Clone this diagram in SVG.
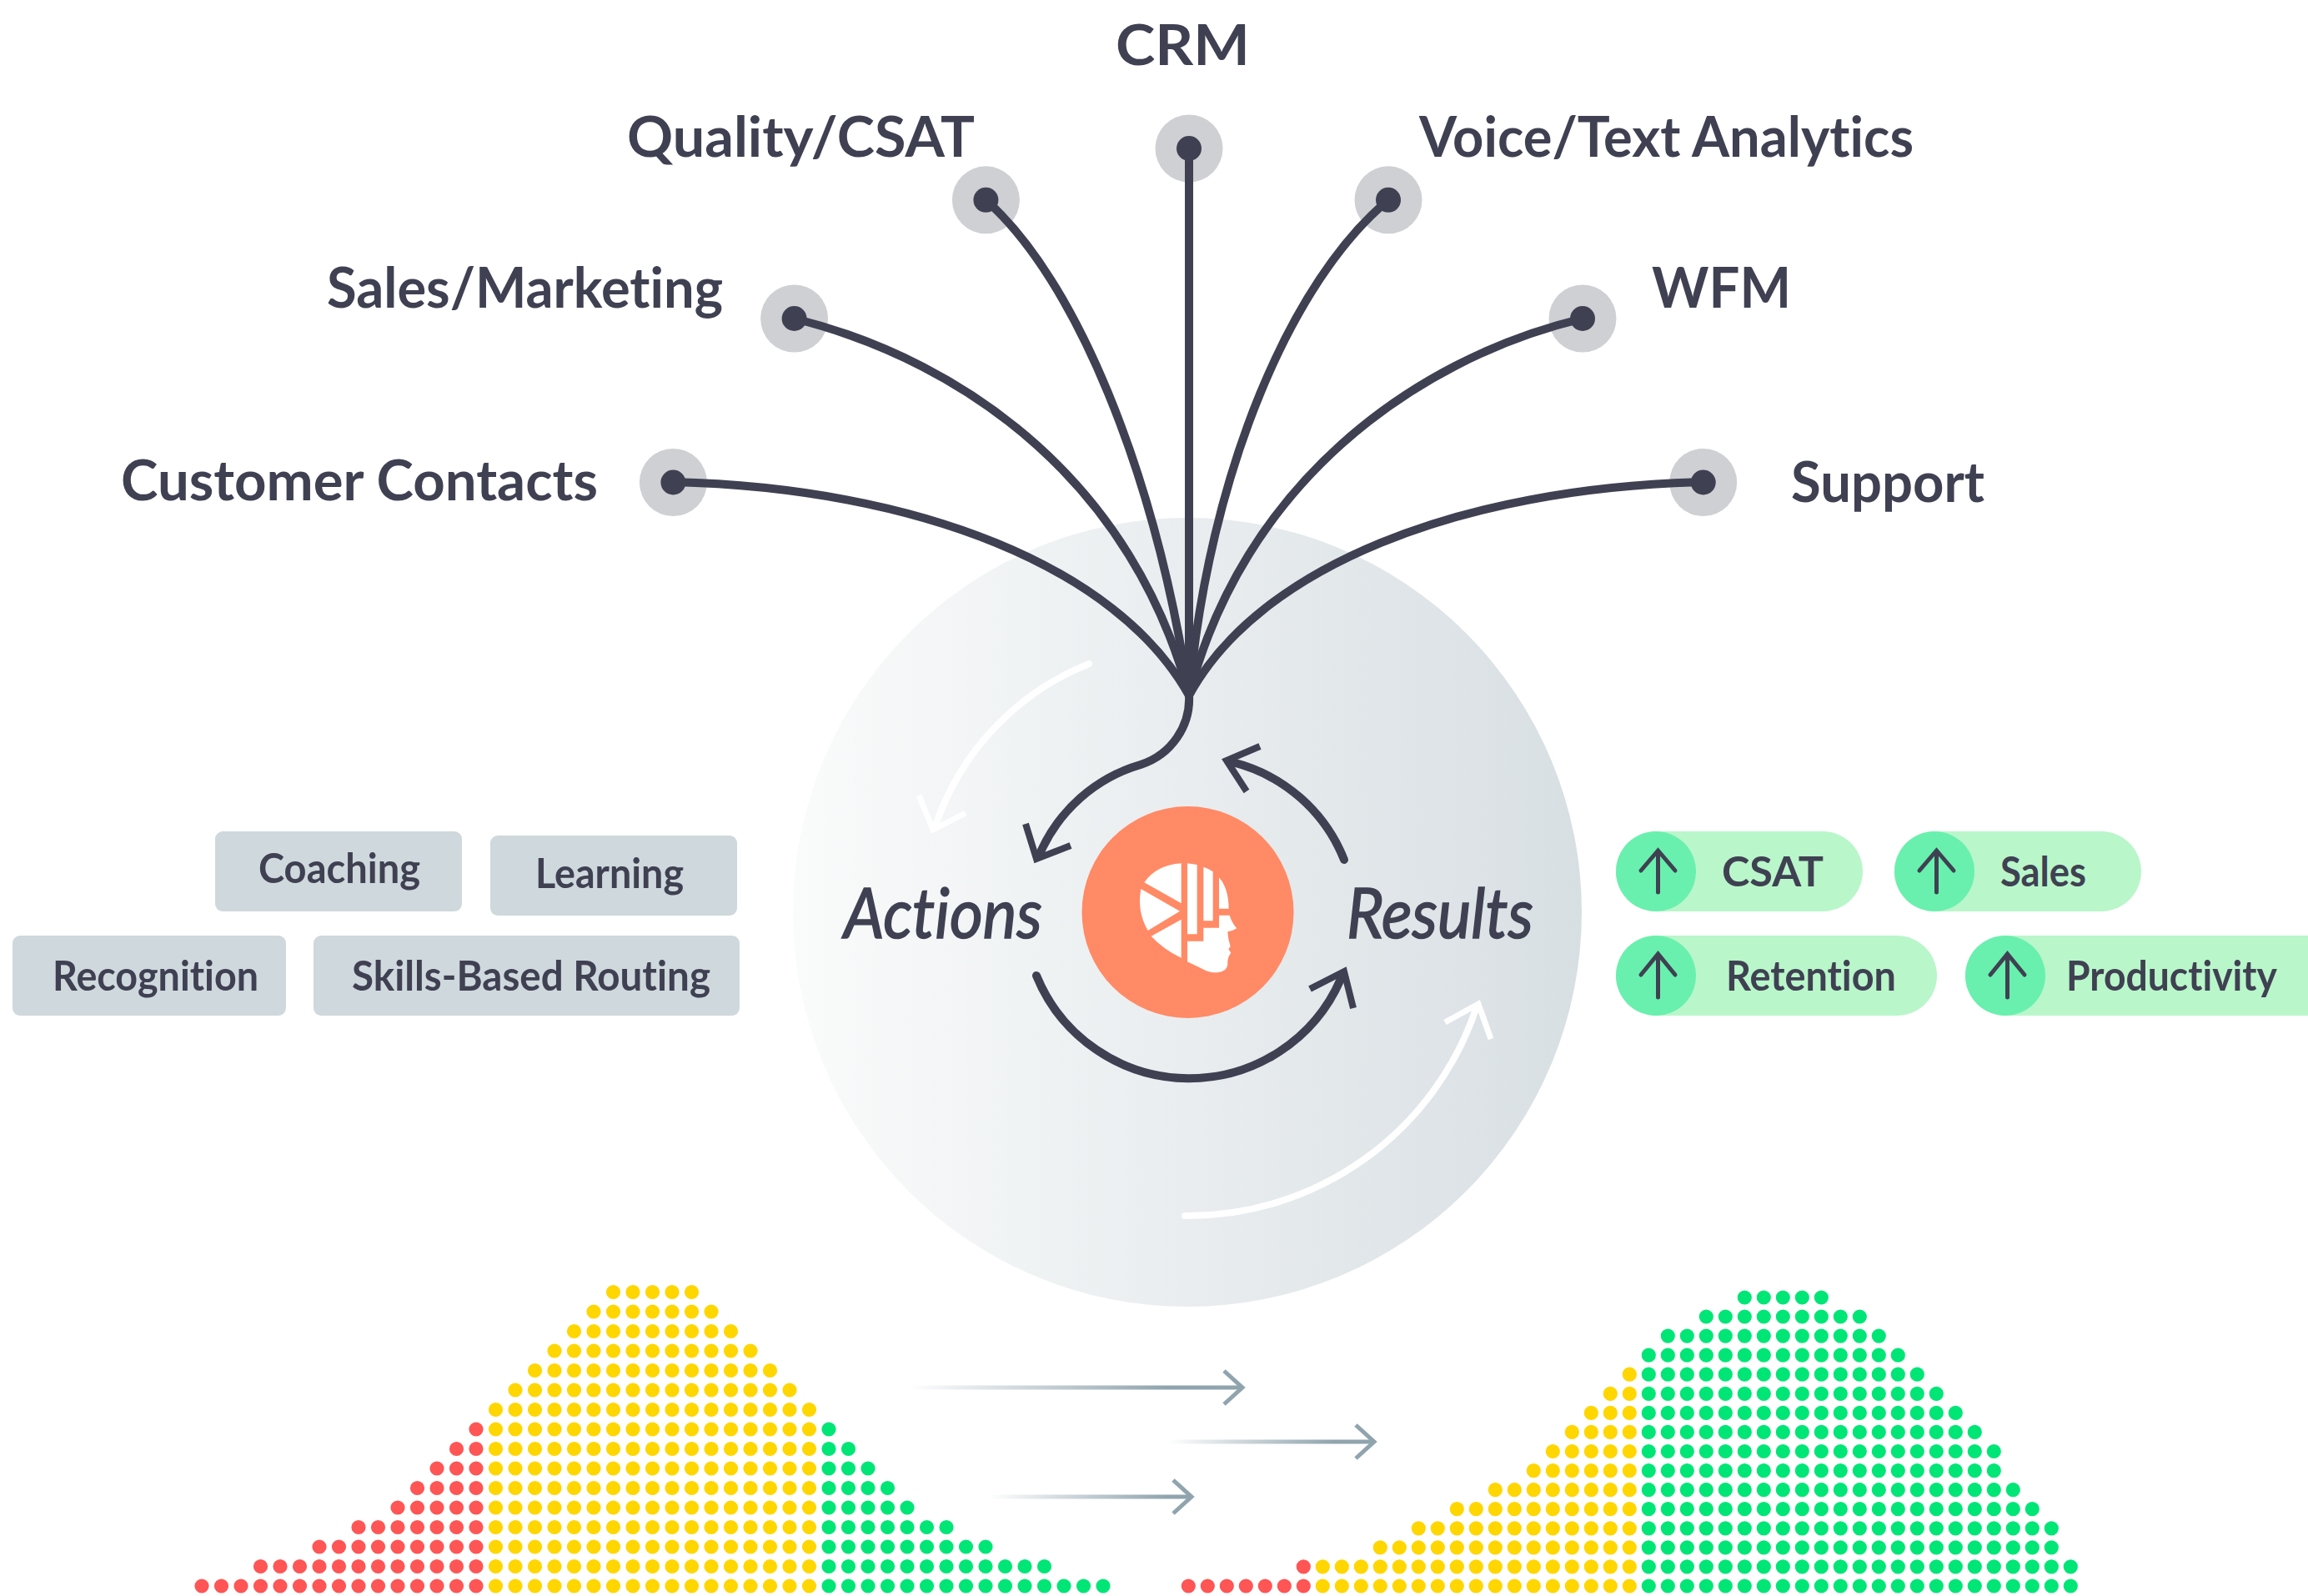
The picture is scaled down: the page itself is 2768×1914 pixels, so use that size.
<svg xmlns="http://www.w3.org/2000/svg" width="2768" height="1914" viewBox="0 0 2768 1914">
<style>
text{font-family:"Lato","Liberation Sans",sans-serif;fill:#3f4152;font-variant-ligatures:none}
.lbl{font-size:66px;font-weight:700}
.tag{font-size:50px;font-weight:700}
.big{font-size:84px;font-style:italic;font-weight:400;stroke:#3f4152;stroke-width:1.6}
.box{fill:#cfd8dc}
.pill{fill:#b9f6ca}
.disc{fill:#69f0ae}
.halo{fill:#cfd0d4}
.pin{fill:#3f4152}
.wire{fill:none;stroke:#3f4152;stroke-width:10;stroke-linecap:round}
.arm{fill:none;stroke:#3f4152;stroke-width:8}
.white{fill:none;stroke:#fff;stroke-width:8;stroke-linecap:round}
.whitearm{fill:none;stroke:#fff;stroke-width:7}
.up{fill:none;stroke:#3f4152;stroke-width:5;stroke-linecap:round}
.grey{fill:none;stroke-width:5}
.r,.y,.g{fill:none;stroke-width:17.2;stroke-linecap:round}
.a line{stroke-dasharray:0 23.5}
.b line{stroke-dasharray:0 23}
.r{stroke:#ff5555}.y{stroke:#ffd600}.g{stroke:#00e676}
</style>
<defs>
<linearGradient id="disc" x1="0" x2="1" y1="0" y2="0"><stop offset="0" stop-color="#fafbfb"/><stop offset="1" stop-color="#d8dfe3"/></linearGradient>
<linearGradient id="g1" gradientUnits="userSpaceOnUse" x1="1090" x2="1400" y1="0" y2="0"><stop offset="0" stop-color="#90a4ae" stop-opacity="0"/><stop offset="1" stop-color="#90a4ae"/></linearGradient>
<linearGradient id="g2" gradientUnits="userSpaceOnUse" x1="1400" x2="1600" y1="0" y2="0"><stop offset="0" stop-color="#90a4ae" stop-opacity="0"/><stop offset="1" stop-color="#90a4ae"/></linearGradient>
<linearGradient id="g3" gradientUnits="userSpaceOnUse" x1="1186" x2="1400" y1="0" y2="0"><stop offset="0" stop-color="#90a4ae" stop-opacity="0"/><stop offset="1" stop-color="#90a4ae"/></linearGradient>
</defs>
<rect width="2768" height="1914" fill="#fff"/>
<circle id="cycle-disc" cx="1424" cy="1094" r="473" fill="url(#disc)"/>
<g id="white-arrows">
<path class="white" d="M1306,796A320,320 0 0 0 1122,990"/>
<path class="whitearm" d="M1102,954L1119,995L1158,975"/>
<path class="white" stroke-width="9" d="M1421,1458A365,365 0 0 0 1770,1210"/>
<path class="whitearm" d="M1733,1226L1773,1204L1788,1246"/>
</g>
<g id="node-customer-contacts"><circle class="halo" cx="807.4" cy="578.5" r="40.5"/><circle class="pin" cx="807.4" cy="578.5" r="15"/><text class="lbl" x="145" y="600" textLength="572" lengthAdjust="spacingAndGlyphs">Customer Contacts</text></g>
<g id="node-sales-marketing"><circle class="halo" cx="952.6" cy="382" r="40.5"/><circle class="pin" cx="952.6" cy="382" r="15"/><text class="lbl" x="392" y="369" textLength="475" lengthAdjust="spacingAndGlyphs">Sales/Marketing</text></g>
<g id="node-quality-csat"><circle class="halo" cx="1182.4" cy="239.8" r="40.5"/><circle class="pin" cx="1182.4" cy="239.8" r="15"/><text class="lbl" x="752" y="188" textLength="417" lengthAdjust="spacingAndGlyphs">Quality/CSAT</text></g>
<g id="node-crm"><circle class="halo" cx="1426" cy="178" r="40.5"/><circle class="pin" cx="1426" cy="178" r="15"/><text class="lbl" x="1338" y="78" textLength="161" lengthAdjust="spacingAndGlyphs">CRM</text></g>
<g id="node-voice-text-analytics"><circle class="halo" cx="1665" cy="239.8" r="40.5"/><circle class="pin" cx="1665" cy="239.8" r="15"/><text class="lbl" x="1702" y="188" textLength="593" lengthAdjust="spacingAndGlyphs">Voice/Text Analytics</text></g>
<g id="node-wfm"><circle class="halo" cx="1898" cy="382" r="40.5"/><circle class="pin" cx="1898" cy="382" r="15"/><text class="lbl" x="1981" y="369" textLength="167" lengthAdjust="spacingAndGlyphs">WFM</text></g>
<g id="node-support"><circle class="halo" cx="2042.7" cy="578.5" r="40.5"/><circle class="pin" cx="2042.7" cy="578.5" r="15"/><text class="lbl" x="2148" y="602" textLength="232" lengthAdjust="spacingAndGlyphs">Support</text></g>
<g id="node-brain">
<circle cx="1424.5" cy="1094" r="127" fill="#ff8a65"/>
<g transform="translate(1280,960) scale(.33333)" fill="#fff">
<path d="M410,226L410,370L277,295Q320,232 410,226Z"/>
<path d="M265,318L405,398L290,468Q250,400 265,318Z"/>
<path d="M410,428L410,566Q345,535 302,488Z"/>
<path d="M432,226L467,231L467,481L432,481Z"/>
<path d="M490,239Q510,245 524,256L524,433L490,433Z"/>
<path d="M546,277Q580,315 581,389L546,389Z"/>
<path d="M432,506L490,506L490,458L546,458L546,413L584,413Q592,440 610,460Q598,468 577,472Q578,500 587,525L580,535L589,548Q575,565 577,590Q575,615 540,619Q510,620 485,605L432,580Z"/>
</g>
</g>
<g id="node-actions"><text class="big" x="1012" y="1125" textLength="238" lengthAdjust="spacingAndGlyphs">Actions</text></g>
<g id="node-results"><text class="big" x="1615" y="1125" textLength="224" lengthAdjust="spacingAndGlyphs">Results</text></g>
<g id="node-coaching"><rect class="box" x="258" y="997" width="296" height="96" rx="9"/><text class="tag" x="310" y="1059" textLength="194" lengthAdjust="spacingAndGlyphs">Coaching</text></g>
<g id="node-learning"><rect class="box" x="588" y="1002" width="296" height="96" rx="9"/><text class="tag" x="642" y="1065" textLength="178" lengthAdjust="spacingAndGlyphs">Learning</text></g>
<g id="node-recognition"><rect class="box" x="15" y="1122" width="328" height="96" rx="9"/><text class="tag" x="63" y="1188" textLength="247" lengthAdjust="spacingAndGlyphs">Recognition</text></g>
<g id="node-skills-based-routing"><rect class="box" x="376" y="1122" width="511" height="96" rx="9"/><text class="tag" x="422" y="1188" textLength="430" lengthAdjust="spacingAndGlyphs">Skills-Based Routing</text></g>
<g id="node-csat"><rect class="pill" x="1938" y="997" width="296" height="96" rx="48"/><circle class="disc" cx="1986" cy="1045" r="48"/><path class="up" d="M1988.5,1070V1020M1968,1044L1988.5,1020L2009,1044"/><text class="tag" x="2065" y="1063" textLength="122" lengthAdjust="spacingAndGlyphs">CSAT</text></g>
<g id="node-sales"><rect class="pill" x="2272" y="997" width="296" height="96" rx="48"/><circle class="disc" cx="2320" cy="1045" r="48"/><path class="up" d="M2322.5,1070V1020M2302,1044L2322.5,1020L2343,1044"/><text class="tag" x="2399" y="1063" textLength="103" lengthAdjust="spacingAndGlyphs">Sales</text></g>
<g id="node-retention"><rect class="pill" x="1938" y="1122" width="385" height="96" rx="48"/><circle class="disc" cx="1986" cy="1170" r="48"/><path class="up" d="M1988.5,1196V1144M1968,1169L1988.5,1144L2009,1169"/><text class="tag" x="2070" y="1188" textLength="204" lengthAdjust="spacingAndGlyphs">Retention</text></g>
<g id="node-productivity"><rect class="pill" x="2357" y="1122" width="460" height="96" rx="48"/><circle class="disc" cx="2405" cy="1170" r="48"/><path class="up" d="M2407.5,1196V1144M2387,1169L2407.5,1144L2428,1169"/><text class="tag" x="2478" y="1188" textLength="253" lengthAdjust="spacingAndGlyphs">Productivity</text></g>
<g id="connectors">
<path class="wire" d="M807.4,578C1100,585 1340,680 1426,834"/>
<path class="wire" d="M952.6,382C1165,435 1360,585 1426,834"/>
<path class="wire" d="M1182.4,240C1290,335 1385,565 1426,834"/>
<path class="wire" d="M1426,178L1426,834"/>
<path class="wire" d="M1665,240C1550,335 1450,565 1426,834"/>
<path class="wire" d="M1898,382C1690,432 1490,585 1426,834"/>
<path class="wire" d="M2042.7,578C1750,585 1510,680 1426,834"/>
<path class="wire" d="M1426,834C1428,870 1405,905 1368,917A190,190 0 0 0 1247,1024"/>
<path class="arm" d="M1230,988L1243,1030L1284,1014"/>
<path class="wire" d="M1612,1031A195,195 0 0 0 1478,914"/>
<path class="arm" d="M1511,895L1471,912L1495,949"/>
<path class="wire" d="M1243,1170A198,198 0 0 0 1608,1174"/>
<path class="arm" d="M1571,1186L1612,1165L1623,1209"/>
<path class="grey" stroke="url(#g1)" d="M1090,1664H1490"/>
<path class="grey" stroke="#90a4ae" d="M1468,1644L1490,1664L1468,1684"/>
<path class="grey" stroke="url(#g2)" d="M1400,1729H1648"/>
<path class="grey" stroke="#90a4ae" d="M1626,1709L1648,1729L1626,1749"/>
<path class="grey" stroke="url(#g3)" d="M1186,1795H1429"/>
<path class="grey" stroke="#90a4ae" d="M1407,1775L1429,1795L1407,1815"/>
</g>
<g id="distribution-before" class="a">
<line class="r" x1="242" x2="571.5" y1="1902" y2="1902"/>
<line class="r" x1="312.5" x2="571.5" y1="1878.5" y2="1878.5"/>
<line class="r" x1="383" x2="571.5" y1="1855" y2="1855"/>
<line class="r" x1="430" x2="571.5" y1="1831.5" y2="1831.5"/>
<line class="r" x1="477" x2="571.5" y1="1808" y2="1808"/>
<line class="r" x1="500.5" x2="571.5" y1="1784.5" y2="1784.5"/>
<line class="r" x1="524" x2="571.5" y1="1761" y2="1761"/>
<line class="r" x1="547.5" x2="571.5" y1="1737.5" y2="1737.5"/>
<line class="r" x1="571" x2="571.5" y1="1714" y2="1714"/>
<line class="y" x1="594.5" x2="971" y1="1902" y2="1902"/>
<line class="y" x1="594.5" x2="971" y1="1878.5" y2="1878.5"/>
<line class="y" x1="594.5" x2="971" y1="1855" y2="1855"/>
<line class="y" x1="594.5" x2="971" y1="1831.5" y2="1831.5"/>
<line class="y" x1="594.5" x2="971" y1="1808" y2="1808"/>
<line class="y" x1="594.5" x2="971" y1="1784.5" y2="1784.5"/>
<line class="y" x1="594.5" x2="971" y1="1761" y2="1761"/>
<line class="y" x1="594.5" x2="971" y1="1737.5" y2="1737.5"/>
<line class="y" x1="594.5" x2="971" y1="1714" y2="1714"/>
<line class="y" x1="594.5" x2="971" y1="1690.5" y2="1690.5"/>
<line class="y" x1="618" x2="947.5" y1="1667" y2="1667"/>
<line class="y" x1="641.5" x2="924" y1="1643.5" y2="1643.5"/>
<line class="y" x1="665" x2="900.5" y1="1620" y2="1620"/>
<line class="y" x1="688.5" x2="877" y1="1596.5" y2="1596.5"/>
<line class="y" x1="712" x2="853.5" y1="1573" y2="1573"/>
<line class="y" x1="735.5" x2="830" y1="1549.5" y2="1549.5"/>
<line class="g" x1="994" x2="1323.5" y1="1902" y2="1902"/>
<line class="g" x1="994" x2="1253" y1="1878.5" y2="1878.5"/>
<line class="g" x1="994" x2="1182.5" y1="1855" y2="1855"/>
<line class="g" x1="994" x2="1135.5" y1="1831.5" y2="1831.5"/>
<line class="g" x1="994" x2="1088.5" y1="1808" y2="1808"/>
<line class="g" x1="994" x2="1065" y1="1784.5" y2="1784.5"/>
<line class="g" x1="994" x2="1041.5" y1="1761" y2="1761"/>
<line class="g" x1="994" x2="1018" y1="1737.5" y2="1737.5"/>
<line class="g" x1="994" x2="994.5" y1="1714" y2="1714"/>
</g>
<g id="distribution-after" class="b">
<line class="r" x1="1425.3" x2="1563.8" y1="1902" y2="1902"/>
<line class="r" x1="1563.3" x2="1563.8" y1="1878.9" y2="1878.9"/>
<line class="y" x1="1586.3" x2="1954.8" y1="1902" y2="1902"/>
<line class="y" x1="1586.3" x2="1954.8" y1="1878.9" y2="1878.9"/>
<line class="y" x1="1655.3" x2="1954.8" y1="1855.9" y2="1855.9"/>
<line class="y" x1="1701.3" x2="1954.8" y1="1832.8" y2="1832.8"/>
<line class="y" x1="1747.3" x2="1954.8" y1="1809.7" y2="1809.7"/>
<line class="y" x1="1793.3" x2="1954.8" y1="1786.7" y2="1786.7"/>
<line class="y" x1="1839.3" x2="1954.8" y1="1763.6" y2="1763.6"/>
<line class="y" x1="1862.3" x2="1954.8" y1="1740.5" y2="1740.5"/>
<line class="y" x1="1885.3" x2="1954.8" y1="1717.4" y2="1717.4"/>
<line class="y" x1="1908.3" x2="1954.8" y1="1694.4" y2="1694.4"/>
<line class="y" x1="1931.3" x2="1954.8" y1="1671.3" y2="1671.3"/>
<line class="y" x1="1954.3" x2="1954.8" y1="1648.2" y2="1648.2"/>
<line class="g" x1="1977.3" x2="2483.8" y1="1902" y2="1902"/>
<line class="g" x1="1977.3" x2="2483.8" y1="1878.9" y2="1878.9"/>
<line class="g" x1="1977.3" x2="2460.8" y1="1855.9" y2="1855.9"/>
<line class="g" x1="1977.3" x2="2460.8" y1="1832.8" y2="1832.8"/>
<line class="g" x1="1977.3" x2="2437.8" y1="1809.7" y2="1809.7"/>
<line class="g" x1="1977.3" x2="2414.8" y1="1786.7" y2="1786.7"/>
<line class="g" x1="1977.3" x2="2391.8" y1="1763.6" y2="1763.6"/>
<line class="g" x1="1977.3" x2="2391.8" y1="1740.5" y2="1740.5"/>
<line class="g" x1="1977.3" x2="2368.8" y1="1717.4" y2="1717.4"/>
<line class="g" x1="1977.3" x2="2345.8" y1="1694.4" y2="1694.4"/>
<line class="g" x1="1977.3" x2="2322.8" y1="1671.3" y2="1671.3"/>
<line class="g" x1="1977.3" x2="2299.8" y1="1648.2" y2="1648.2"/>
<line class="g" x1="1977.3" x2="2276.8" y1="1625.2" y2="1625.2"/>
<line class="g" x1="2000.3" x2="2253.8" y1="1602.1" y2="1602.1"/>
<line class="g" x1="2046.3" x2="2230.8" y1="1579" y2="1579"/>
<line class="g" x1="2092.3" x2="2184.8" y1="1556" y2="1556"/>
</g>
</svg>
